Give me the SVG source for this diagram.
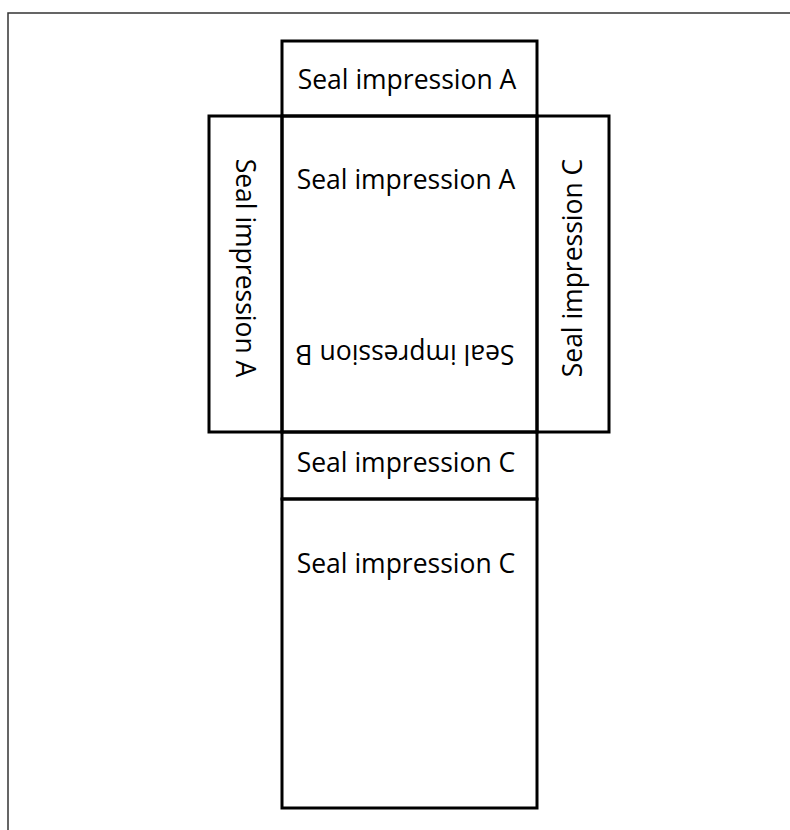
<svg xmlns="http://www.w3.org/2000/svg" width="790" height="830" viewBox="0 0 790 830">
<style>
.frame{fill:none;stroke:#333;stroke-width:1.5}
.box{fill:none;stroke:#000;stroke-width:3}
.t{font-family:"Open Sans","Noto Sans",sans-serif;font-size:26.5px;fill:#000;text-anchor:middle}
</style>
<rect width="790" height="830" fill="#fff"/>
<path class="frame" d="M8,830 V13 H790"/>
<g id="top"><rect class="box" x="282" y="41" width="255" height="75"/><text class="t" x="407" y="89">Seal impression A</text></g>
<g id="center"><rect class="box" x="282" y="116" width="255" height="316"/><text class="t" x="406" y="189">Seal impression A</text><text class="t" transform="translate(405,345) rotate(180)">Seal impression B</text></g>
<g id="left"><rect class="box" x="209" y="116" width="73" height="316"/><text class="t" transform="translate(236,268) rotate(90)">Seal impression A</text></g>
<g id="right"><rect class="box" x="537" y="116" width="72" height="316"/><text class="t" transform="translate(582,268) rotate(-90)">Seal impression C</text></g>
<g id="bottom-small"><rect class="box" x="282" y="432" width="255" height="67"/><text class="t" x="406" y="472">Seal impression C</text></g>
<g id="bottom-large"><rect class="box" x="282" y="499" width="255" height="309"/><text class="t" x="406" y="573">Seal impression C</text></g>
<g id="connectors"/>
</svg>
